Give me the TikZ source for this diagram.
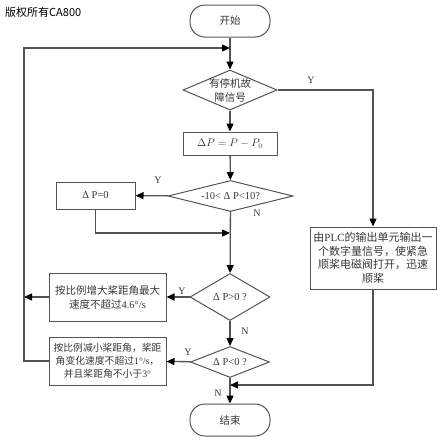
\documentclass[tikz,border=0pt]{standalone}
\usepackage{fontspec}
\setmainfont{Liberation Serif}
\newfontfamily\cjk{Noto Sans CJK SC}
\usetikzlibrary{shapes.geometric,arrows.meta}
\definecolor{linegray}{gray}{0.33}
\definecolor{textgray}{gray}{0.22}
\newcommand{\zh}[1]{{\cjk #1}}
\tikzstyle{term}=[rectangle, rounded corners=15pt, draw=linegray, line width=1pt, minimum width=80pt, minimum height=32pt, text=textgray, font=\fontsize{10.5}{14}\selectfont]
\tikzstyle{proc}=[rectangle, draw=linegray, line width=1pt, align=center, inner sep=1pt, text=textgray, font=\fontsize{10.5}{14}\selectfont]
\tikzstyle{decide}=[diamond, draw=linegray, line width=1pt, align=center, inner sep=0pt, text=textgray, font=\fontsize{10.5}{14}\selectfont]
\tikzstyle{flow}=[draw=linegray, line width=1.3pt, -{Triangle[length=8pt,width=7pt,color=black]}]
\tikzstyle{annot}=[inner sep=0pt, text=textgray, font=\fontsize{10}{12}\selectfont]

\begin{document}
\begin{tikzpicture}[x=1pt,y=-1pt]
	\useasboundingbox (0,0) rectangle (443,442);
	\node[inner sep=0pt, anchor=west, font=\cjk\fontsize{11}{13}\selectfont] (mark) at (5,12) {版权所有CA800};

	\node[term] (start) at (230,21) {\zh{开始}};
	\node[decide, minimum width=94pt, minimum height=40pt, aspect=2.35, inner sep=-2.5pt] (fault) at (230,90) {\zh{有停机故}\\\zh{障信号}};
	\node[proc, minimum width=94pt, minimum height=23pt] (diff) at (230,143.5) {$\Delta P = P - P_0$};
	\node[decide, minimum width=125pt, minimum height=31pt, aspect=4] (band) at (230.5,196) {-10< Δ P<10?};
	\node[proc, minimum width=79pt, minimum height=27pt] (zero) at (95.5,195.5) {Δ P=0};
	\node[decide, minimum width=80pt, minimum height=47pt, aspect=1.7] (pos) at (230,297) {Δ P>0 ?};
	\node[proc, minimum width=117pt, minimum height=48pt] (incr) at (107.5,297) {\zh{按比例增大桨距角最大}\\\zh{速度不超过}4.6°/s};
	\node[decide, minimum width=79pt, minimum height=31pt, aspect=2.5] (neg) at (230,362) {Δ P<0 ?};
	\node[proc, minimum width=117pt, minimum height=48pt, font=\fontsize{9.8}{13}\selectfont] (decr) at (107.5,361) {\zh{按比例减小桨距角，桨距}\\\zh{角变化速度不超过}1°/s\zh{，}\\\zh{并且桨距角不小于}3°};
	\node[proc, minimum width=126pt, minimum height=62pt, font=\fontsize{11}{13.5}\selectfont] (plc) at (373,258) {\zh{由}PLC\zh{的输出单元输出一}\\\zh{个数字量信号，使紧急}\\\zh{顺桨电磁阀打开，迅速}\\\zh{顺桨}};
	\node[term] (stop) at (230,420) {\zh{结束}};

	\coordinate (loopTop) at (24,48);
	\coordinate (loopMid) at (24,297);
	\coordinate (loopBot) at (24,361);
	\coordinate (mergeA) at (230,48);
	\coordinate (mergeB) at (230,233);
	\coordinate (mergeC) at (230,385);
	\coordinate (plcTurn) at (373,385);

	\draw[flow] (start) -- (fault);
	\draw[flow] (fault) -- (diff);
	\draw[flow] (diff) -- (band);
	\draw[flow] (band) -- (zero);
	\draw[flow] (zero.south) |- (mergeB);
	\draw[flow] (band) -- (pos);
	\draw[flow] (pos) -- (incr);
	\draw[flow] (incr.west) -- (loopMid);
	\draw[flow] (pos) -- (neg);
	\draw[flow] (neg) -- (decr);
	\draw[flow] (decr.west) -- (loopBot) -- (loopTop) -- (mergeA);
	\draw[flow] (neg) -- (stop);
	\draw[flow] (fault.east) -| (plc.north);
	\draw[flow] (plc.south) -- (plcTurn) -- (mergeC);

	\node[annot] (yFault) at (311,80) {Y};
	\node[annot] (yBand) at (158,180) {Y};
	\node[annot] (nBand) at (257,213) {N};
	\node[annot] (yPos) at (182,291) {Y};
	\node[annot] (nPos) at (245,331) {N};
	\node[annot] (yNeg) at (188,352) {Y};
	\node[annot] (nNeg) at (218,393) {N};
\end{tikzpicture}
\end{document}
